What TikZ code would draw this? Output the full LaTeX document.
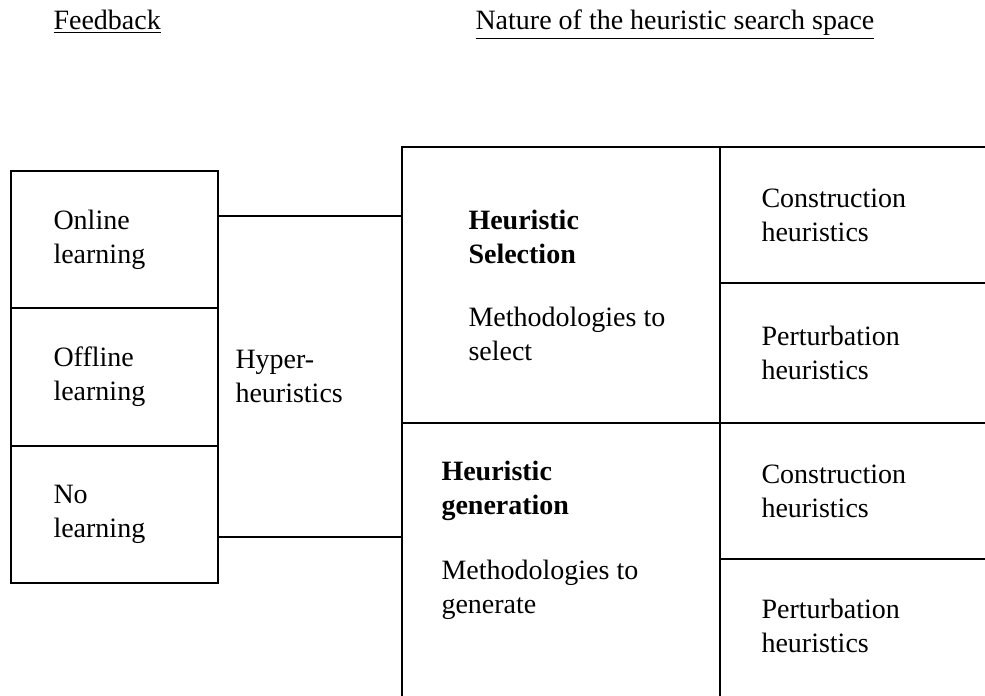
\documentclass[tikz,border=0pt]{standalone}
\usepackage{fontspec}
\setmainfont{Liberation Serif}
\usepackage{tikz}
\usetikzlibrary{positioning}
\newcommand{\bodyfont}{\fontsize{11.2}{13.6}\selectfont}

\begin{document}
\begin{tikzpicture}[x=0.4pt, y=-0.4pt,
    box/.style={rectangle, draw, line width=0.8pt, outer sep=0pt, inner sep=0pt},
    fbbox/.style={box, minimum width=82.8pt, minimum height=54.9pt},
    bigbox/.style={box, minimum width=127.2pt},
    rcell/.style={box, minimum width=116pt},
    lbl/.style={font=\bodyfont, align=left, anchor=west, inner sep=0pt},
    conn/.style={line width=0.8pt}]

    \clip (0,0) rectangle (985,695);

    \node[lbl, anchor=base west] (fbhead) at (53,29) {\underline{Feedback}};
    \node[lbl, anchor=base west] (nshead) at (475,29) {\underline{Nature of the heuristic search space}};

    \node[fbbox] (online) at (114.5,239.7) {};
    \node[fbbox, below=0pt of online] (offline) {};
    \node[fbbox, below=0pt of offline] (nolearn) {};

    \node[lbl] (tonline) at ([xshift=16.8pt]online.west) {Online\\learning};
    \node[lbl] (toffline) at ([xshift=16.8pt]offline.west) {Offline\\learning};
    \node[lbl] (tnolearn) at ([xshift=16.8pt]nolearn.west) {No\\learning};

    \node[bigbox, minimum height=110.4pt] (sel) at (561,285) {};
    \node[bigbox, minimum height=122.8pt, below=0pt of sel] (gen) {};

    \node[lbl] (hyper) at ([xshift=6.8pt]offline.east) {Hyper-\\heuristics};

    \node[lbl] (tsel) at ([xshift=26.4pt]sel.west) {\textbf{Heuristic}\\\textbf{Selection}\\[11.6pt]Methodologies to\\select};
    \node[lbl, anchor=north west] (tgen) at ([xshift=15.6pt, yshift=-15pt]gen.north west) {\textbf{Heuristic}\\\textbf{generation}\\[12.4pt]Methodologies to\\generate};

    \node[rcell, minimum height=54.4pt, anchor=north west] (cons1) at (sel.north east) {};
    \node[rcell, minimum height=56pt, below=0pt of cons1] (pert1) {};
    \node[rcell, minimum height=54.4pt, below=0pt of pert1] (cons2) {};
    \node[rcell, minimum height=72pt, below=0pt of cons2] (pert2) {};

    \node[lbl] (tcons1) at ([xshift=16.4pt]cons1.west) {Construction\\heuristics};
    \node[lbl] (tpert1) at ([xshift=16.4pt]pert1.west) {Perturbation\\heuristics};
    \node[lbl] (tcons2) at ([xshift=16.4pt]cons2.west) {Construction\\heuristics};
    \node[lbl] (tpert2) at ([xshift=16.4pt, yshift=9.2pt]pert2.west) {Perturbation\\heuristics};

    \coordinate (hhtop) at (300,216);
    \coordinate (hhbot) at (300,537);
    \draw[conn] (online.east |- hhtop) -- (sel.west |- hhtop);
    \draw[conn] (nolearn.east |- hhbot) -- (gen.west |- hhbot);
\end{tikzpicture}
\end{document}
